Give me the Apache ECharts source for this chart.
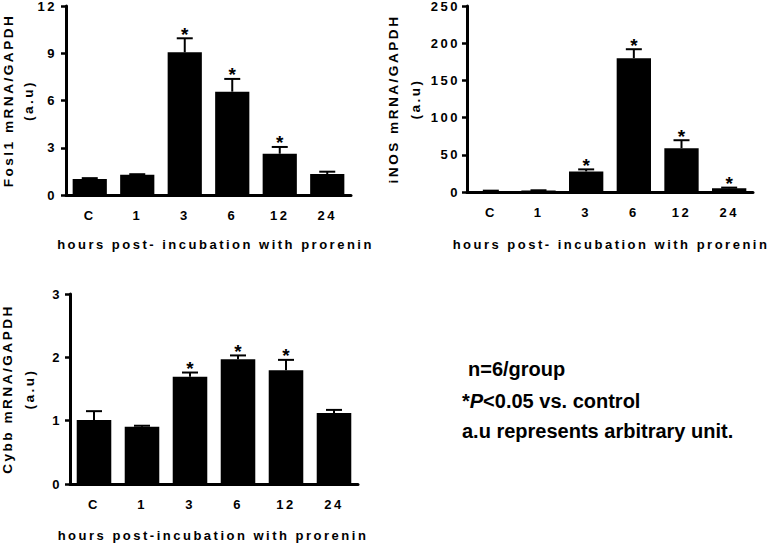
<!DOCTYPE html>
<html>
<head>
<meta charset="utf-8">
<script src="https://cdn.jsdelivr.net/npm/echarts@6/dist/echarts.min.js"></script>
<style>
html,body{margin:0;padding:0;background:#fff;}
#chart{width:771px;height:546px;}
#chart svg text[style*="Arial"], #chart svg text[font-family*="Arial"]{letter-spacing:2.5px;}
</style>
</head>
<body>
<div id="chart"></div>
<script>
// ---- data ----
const categories = ['C', '1', '3', '6', '12', '24'];

const fosl1Mean = [1.02, 1.29, 9.06, 6.56, 2.62, 1.33];
const fosl1Sem  = [0.05, 0.03, 0.89, 0.81, 0.43, 0.15];
const fosl1Sig  = [0, 0, 1, 1, 1, 0];

const inosMean = [1.5, 2.0, 27.7, 179.9, 58.9, 5.0];
const inosSem  = [0.3, 0.3, 2.7, 12.0, 10.7, 0.9];
const inosSig  = [0, 0, 1, 1, 1, 1];

const cybbMean = [1.01, 0.905, 1.695, 1.97, 1.795, 1.12];
const cybbSem  = [0.14, 0.015, 0.065, 0.06, 0.165, 0.05];
const cybbSig  = [0, 0, 1, 1, 1, 0];

const yTicks1 = {min: 0, max: 12, interval: 3};
const yTicks2 = {min: 0, max: 250, interval: 50};
const yTicks3 = {min: 0, max: 3, interval: 1};

const yName1 = 'Fosl1 mRNA/GAPDH\n(a.u)';
const yName2 = 'iNOS mRNA/GAPDH\n(a.u)';
const yName3 = 'Cybb mRNA/GAPDH\n(a.u)';
const xName1 = 'hours post- incubation with prorenin';
const xName2 = 'hours post- incubation with prorenin';
const xName3 = 'hours post-incubation with prorenin';

const notes = ['n=6/group', '*P<0.05 vs. control', 'a.u represents arbitrary unit.'];

// ---- build ----
const AX = 'Arial';
function errData(mean, sem, sig) {
  return mean.map((m, i) => [i, m + sem[i], m, sig[i]]);
}
function renderErr(params, api) {
  const i = api.value(0);
  const top = api.coord([i, api.value(1)]);
  const base = api.coord([i, api.value(2)]);
  const children = [
    {type: 'line', shape: {x1: top[0], y1: base[1], x2: top[0], y2: top[1]}, style: {stroke: '#000', lineWidth: 2}},
    {type: 'line', shape: {x1: top[0] - 8, y1: top[1], x2: top[0] + 8, y2: top[1]}, style: {stroke: '#000', lineWidth: 2}}
  ];
  if (api.value(3)) {
    children.push({type: 'text', style: {text: '*', x: top[0], y: top[1] - 4, align: 'center', verticalAlign: 'middle',
      font: 'bold 19px "Liberation Sans"', fill: '#000'}});
  }
  return {type: 'group', children};
}
function xAxis(idx, name, gap, shift) {
  return {
    type: 'category', gridIndex: idx, data: categories,
    name: name, nameLocation: 'middle', nameGap: gap, nameMoveOverlap: false,
    nameTextStyle: {fontFamily: AX, fontWeight: 'bold', fontSize: 13, color: '#000',
      padding: shift >= 0 ? [0, 0, 0, shift] : [0, -shift, 0, 0]},
    axisLine: {lineStyle: {color: '#000', width: 3}},
    axisTick: {show: false},
    axisLabel: {fontFamily: AX, fontWeight: 'bold', fontSize: 13, color: '#000', margin: 14, interval: 0}
  };
}
function yAxis(idx, ticks, name, gap, lh, lm) {
  return {
    type: 'value', gridIndex: idx, min: ticks.min, max: ticks.max, interval: ticks.interval,
    name: name, nameLocation: 'middle', nameGap: gap, nameRotate: 90, nameMoveOverlap: false,
    nameTextStyle: {fontFamily: AX, fontWeight: 'bold', fontSize: 13.6, color: '#000', lineHeight: lh},
    axisLine: {show: true, lineStyle: {color: '#000', width: 3}},
    axisTick: {show: true, length: 5, lineStyle: {color: '#000', width: 2.5}},
    splitLine: {show: false},
    axisLabel: {fontFamily: AX, fontWeight: 'bold', fontSize: 13, color: '#000', margin: lm}
  };
}
function barSeries(idx, data) {
  return {type: 'bar', xAxisIndex: idx, yAxisIndex: idx, data: data, barWidth: '72%',
    itemStyle: {color: '#000'}, silent: true, animation: false};
}
function errSeries(idx, data) {
  return {type: 'custom', xAxisIndex: idx, yAxisIndex: idx, data: data, renderItem: renderErr,
    encode: {x: 0, y: 1}, silent: true, animation: false, z: 5};
}

const chart = echarts.init(document.getElementById('chart'), null, {renderer: 'svg'});
chart.setOption({
  animation: false,
  backgroundColor: '#fff',
  grid: [
    {left: 66, top: 6, width: 285, height: 189, outerBoundsMode: 'none'},
    {left: 467, top: 6, width: 286, height: 186, outerBoundsMode: 'none'},
    {left: 70, top: 294, width: 288, height: 190, outerBoundsMode: 'none'}
  ],
  xAxis: [xAxis(0, xName1, 43, 14), xAxis(1, xName2, 46, 2), xAxis(2, xName3, 45, -2)],
  yAxis: [yAxis(0, yTicks1, yName1, 28, 20, 9), yAxis(1, yTicks2, yName2, 41, 22, 7), yAxis(2, yTicks3, yName3, 30, 22, 8)],
  series: [
    barSeries(0, fosl1Mean), errSeries(0, errData(fosl1Mean, fosl1Sem, fosl1Sig)),
    barSeries(1, inosMean), errSeries(1, errData(inosMean, inosSem, inosSig)),
    barSeries(2, cybbMean), errSeries(2, errData(cybbMean, cybbSem, cybbSig))
  ],
  graphic: [
    {type: 'text', left: 468, top: 359, style: {text: notes[0], font: 'bold 20px "Liberation Sans"', fill: '#000'}},
    {type: 'text', left: 462, top: 391, style: {
      text: '{a|' + notes[1].slice(0, 1) + '}{b|' + notes[1].slice(1, 2) + '}{a|' + notes[1].slice(2) + '}',
      rich: {
        a: {font: 'bold 20px "Liberation Sans"', fill: '#000'},
        b: {font: 'italic bold 20px "Liberation Sans"', fill: '#000'}
      }}},
    {type: 'text', left: 462, top: 421, style: {text: notes[2], font: 'bold 20px "Liberation Sans"', fill: '#000'}}
  ]
});
</script>
</body>
</html>
